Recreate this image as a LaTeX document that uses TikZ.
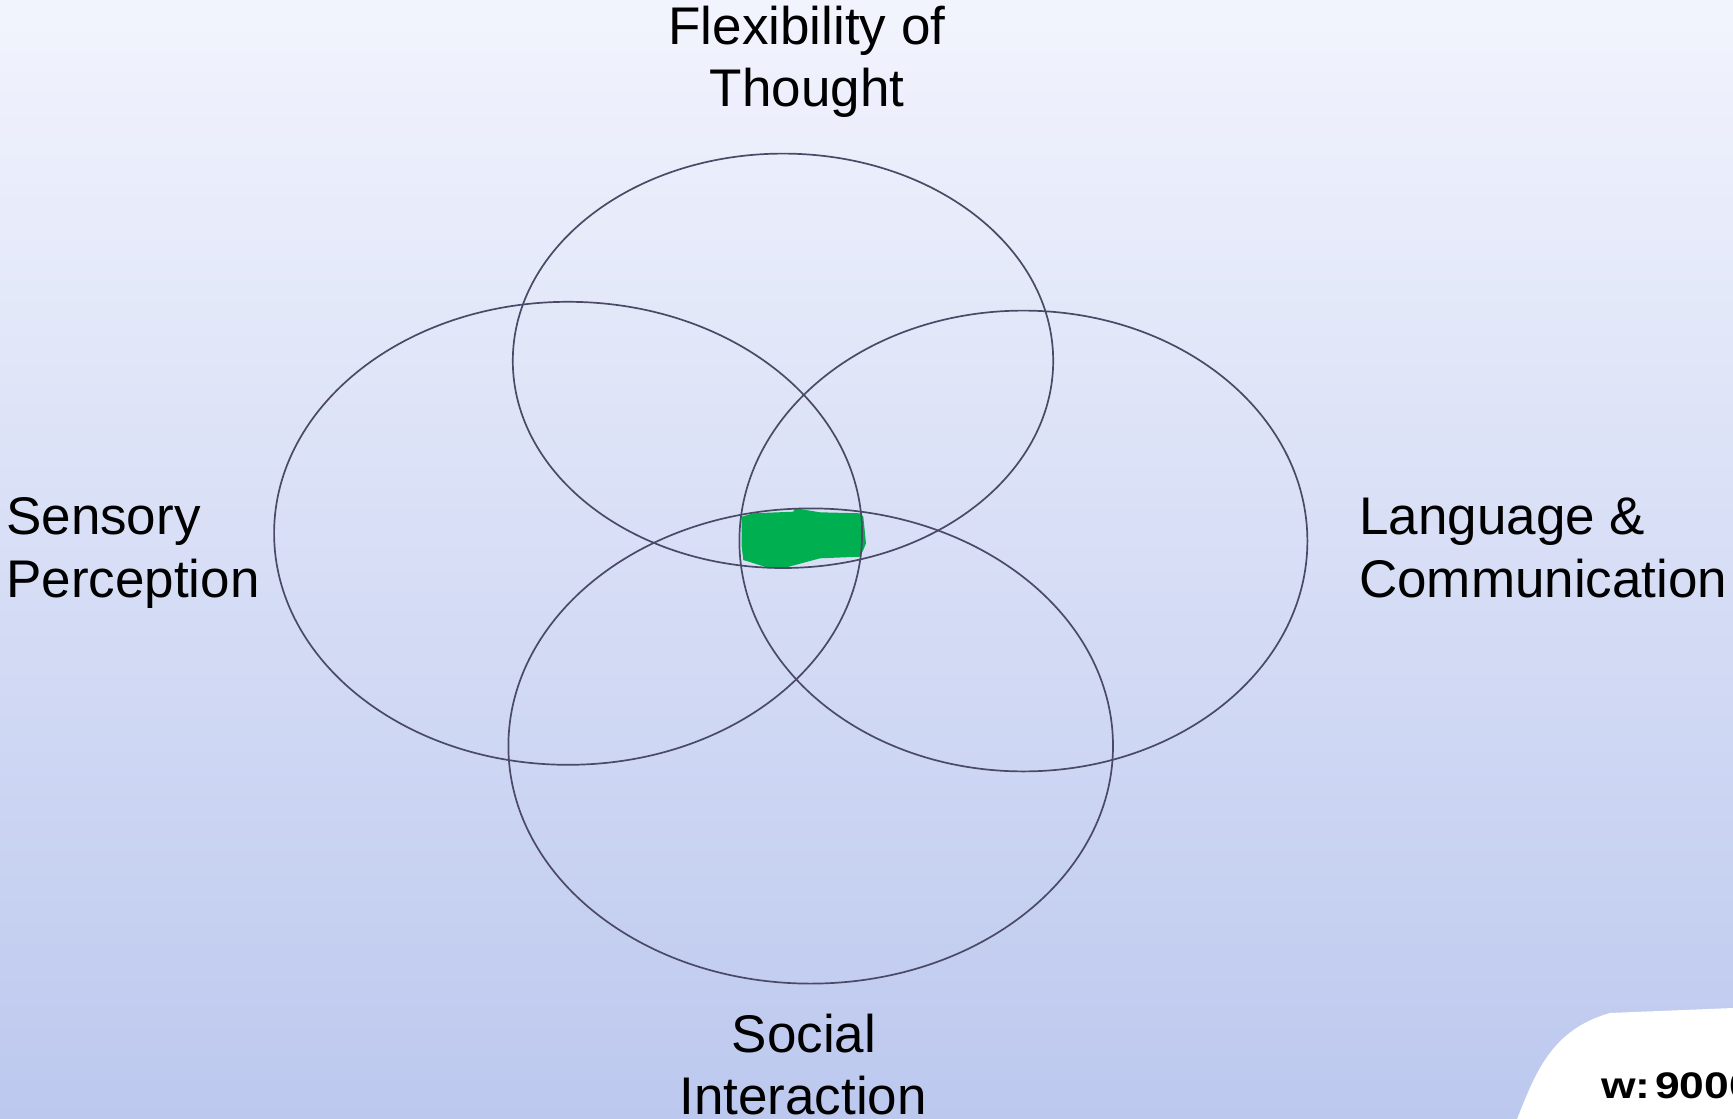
\documentclass[tikz,border=0pt]{standalone}
\usepackage{fontspec}
\setmainfont{Liberation Sans}
\definecolor{bgtop}{HTML}{F2F4FD}
\definecolor{bgbot}{HTML}{BCC8EE}
\definecolor{ring}{HTML}{4A4A66}
\definecolor{blob}{HTML}{00B050}
\begin{document}
\begin{tikzpicture}[x=1pt,y=-1pt,
  ringstyle/.style={draw=ring,line width=1.7pt},
  lbl/.style={font=\fontsize{53}{62}\selectfont,inner sep=0pt,anchor=base}]
\useasboundingbox (0,0) rectangle (1733,1119);
\shade[top color=bgtop,bottom color=bgbot] (0,0) rectangle (1733,1119);
% white overlay bottom-right
\fill[white] (1517,1119) .. controls (1535,1075) and (1550,1030) .. (1610,1013) -- (1733,1008) -- (1733,1119) -- cycle;
\node[font=\fontsize{37}{42}\bfseries\selectfont,anchor=base west,inner sep=0pt,xscale=1.2] (w) at (1601,1098) {w:\hspace{0.1em}9000};
% green blob
\fill[blob] (741.7,516.7) -- (753.3,513.3) -- (793.3,511.7) -- (795,508.3) -- (801.7,509.3) -- (820,512.3) -- (860,513.3) -- (863.3,516.7) -- (866,543.3) -- (863.3,550) -- (860,556.7) -- (820,558.3) -- (786.7,567.3) -- (770,568.3) -- (743.3,560) -- (741.7,546.7) -- cycle;
% ellipses
\draw[ringstyle] (783.0,360.8) ellipse [x radius=270.2, y radius=207.2];
\draw[ringstyle] (568.1,533.3) ellipse [x radius=294.0, y radius=231.5];
\draw[ringstyle] (1023.4,541.0) ellipse [x radius=284.0, y radius=230.4];
\draw[ringstyle] (810.7,746.0) ellipse [x radius=302.3, y radius=237.6];
% labels
\node[lbl] (f1) at (807,44) {Flexibility of};
\node[lbl] (f2) at (807,106) {Thought};
\node[lbl,anchor=base west] (s1) at (6,534) {Sensory};
\node[lbl,anchor=base west] (s2) at (6,597) {Perception};
\node[lbl,anchor=base west] (l1) at (1359,534) {Language \&};
\node[lbl,anchor=base west] (l2) at (1359,597) {Communication};
\node[lbl] (i1) at (804,1052) {Social};
\node[lbl] (i2) at (803,1114) {Interaction};
\end{tikzpicture}
\end{document}
